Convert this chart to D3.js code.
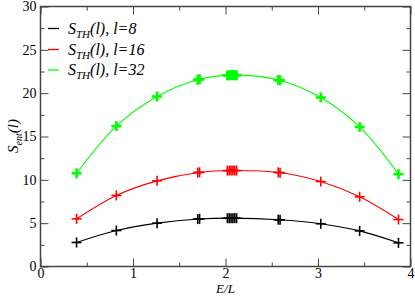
<!DOCTYPE html>
<html><head><meta charset="utf-8">
<script src="https://cdn.jsdelivr.net/npm/d3@7/dist/d3.min.js"></script>
<style>
body{margin:0;background:#fff}svg{display:block}
svg text, svg tspan { font-family: "Liberation Serif", "DejaVu Serif", "Noto Serif", "Times New Roman", Times, serif !important; }
</style>
</head><body><div id="chart"></div>
<script>
// ---- data ----
const xTicks = [0, 1, 2, 3, 4];
const yTicks = [0, 5, 10, 15, 20, 25, 30];
const seriesNames = ["l=8", "l=16", "l=32"];
const seriesColors = ["#000000", "#ff0000", "#00ff00"];
// curve nodes
const curveX = [0.39, 0.82, 1.26, 1.71, 2.07, 2.58, 3.03, 3.45, 3.87];
const curve8  = [2.77, 4.15, 5.00, 5.48, 5.58, 5.40, 4.93, 4.11, 2.73];
const curve16 = [5.50, 8.20, 9.88, 10.85, 11.08, 10.85, 9.80, 8.04, 5.42];
const curve32 = [10.75, 16.20, 19.62, 21.58, 22.08, 21.50, 19.50, 16.10, 10.66];
// data points (markers)
const pointX   = [0.39, 0.82, 1.26, 1.70, 1.72, 2.02, 2.04, 2.06, 2.08, 2.10, 2.12, 2.57, 2.59, 3.03, 3.45, 3.87];
const points8  = [2.77, 4.15, 5.00, 5.47, 5.50, 5.57, 5.58, 5.58, 5.58, 5.58, 5.57, 5.40, 5.38, 4.93, 4.11, 2.73];
const points16 = [5.50, 8.20, 9.88, 10.84, 10.87, 11.06, 11.07, 11.08, 11.08, 11.08, 11.07, 10.86, 10.83, 9.80, 8.04, 5.42];
const points32 = [10.75, 16.20, 19.62, 21.55, 21.60, 22.05, 22.07, 22.08, 22.08, 22.08, 22.07, 21.52, 21.48, 19.50, 16.10, 10.66];

const curves = [curve8, curve16, curve32];
const points = [points8, points16, points32];

// ---- layout ----
const W = 415, H = 296;
const m = {l: 40.5, r: 4.5, t: 6.5, b: 29.5};
const svg = d3.select("#chart").append("svg").attr("width", W).attr("height", H);
const x = d3.scaleLinear().domain([0, 4]).range([m.l, W - m.r]);
const y = d3.scaleLinear().domain([0, 30]).range([H - m.b, m.t]);

const axisColor = "#444";
const xMinor = d3.range(0.5, 4, 1);
const yMinor = d3.range(2.5, 30, 5);

function styleAxis(g){
  g.attr("font-family", null);
  g.select(".domain").remove();
  g.selectAll(".tick line").attr("stroke", axisColor).attr("stroke-width", 1);
}
// bottom
svg.append("g").attr("transform", `translate(0,${y(0)})`)
  .call(d3.axisBottom(x).tickValues(xTicks).tickSize(-8).tickPadding(2).tickFormat(d3.format("d")))
  .call(styleAxis)
  .call(g => g.selectAll("text").attr("font-size", 14).attr("fill", "#000"));
svg.append("g").attr("transform", `translate(0,${y(0)})`)
  .call(d3.axisBottom(x).tickValues(xMinor).tickSize(-4).tickFormat(""))
  .call(styleAxis);
// top
svg.append("g").attr("transform", `translate(0,${y(30)})`)
  .call(d3.axisTop(x).tickValues(xTicks).tickSize(-8).tickFormat(""))
  .call(styleAxis);
svg.append("g").attr("transform", `translate(0,${y(30)})`)
  .call(d3.axisTop(x).tickValues(xMinor).tickSize(-4).tickFormat(""))
  .call(styleAxis);
// left
svg.append("g").attr("transform", `translate(${x(0)},0)`)
  .call(d3.axisLeft(y).tickValues(yTicks).tickSize(-8).tickPadding(4).tickFormat(d3.format("d")))
  .call(styleAxis)
  .call(g => g.selectAll("text").attr("font-size", 14).attr("fill", "#000"));
svg.append("g").attr("transform", `translate(${x(0)},0)`)
  .call(d3.axisLeft(y).tickValues(yMinor).tickSize(-4).tickFormat(""))
  .call(styleAxis);
// right
svg.append("g").attr("transform", `translate(${x(4)},0)`)
  .call(d3.axisRight(y).tickValues(yTicks).tickSize(-8).tickFormat(""))
  .call(styleAxis);
svg.append("g").attr("transform", `translate(${x(4)},0)`)
  .call(d3.axisRight(y).tickValues(yMinor).tickSize(-4).tickFormat(""))
  .call(styleAxis);

// frame
svg.append("rect").attr("x", x(0)).attr("y", y(30)).attr("width", x(4) - x(0)).attr("height", y(0) - y(30))
  .attr("fill", "none").attr("stroke", axisColor).attr("stroke-width", 1.5);

// curves
const line = d3.line().x((d, i) => x(curveX[i])).y(d => y(d)).curve(d3.curveCatmullRom.alpha(0.5));
curves.forEach((c, k) => {
  svg.append("path").datum(c).attr("d", line).attr("fill", "none")
    .attr("stroke", seriesColors[k]).attr("stroke-width", 1.1);
});

// markers (plus)
const pw = [1.6, 1.6, 2.6];
points.forEach((p, k) => {
  const g = svg.append("g").attr("stroke", seriesColors[k]).attr("stroke-width", pw[k]);
  p.forEach((v, i) => {
    const cx = x(pointX[i]), cy = y(v), s = 5;
    g.append("line").attr("x1", cx - s).attr("x2", cx + s).attr("y1", cy).attr("y2", cy);
    g.append("line").attr("x1", cx).attr("x2", cx).attr("y1", cy - s).attr("y2", cy + s);
  });
});

// legend
const lg = svg.append("g");
const legY = [28.5, 49.5, 70];
seriesNames.forEach((n, k) => {
  lg.append("line").attr("x1", 48).attr("x2", 59).attr("y1", legY[k]).attr("y2", legY[k])
    .attr("stroke", seriesColors[k]).attr("stroke-width", 1.3);
  const t = lg.append("text").attr("x", 68).attr("y", legY[k] + 5).attr("font-size", 16).attr("font-style", "italic").attr("fill", "#000");
  t.append("tspan").text("S");
  t.append("tspan").attr("font-size", 11).attr("dy", 4).text("TH");
  t.append("tspan").attr("dy", -4).text("(l), " + n);
});

// axis labels
svg.append("text").attr("x", x(2)).attr("y", 293).attr("text-anchor", "middle")
  .attr("font-size", 13).attr("font-style", "italic").text("E/L");
const yl = svg.append("text").attr("transform", `translate(18,136) rotate(-90)`).attr("text-anchor", "middle")
  .attr("font-size", 15).attr("font-style", "italic");
yl.append("tspan").text("S");
yl.append("tspan").attr("font-size", 10).attr("dy", 4).text("ent");
yl.append("tspan").attr("dy", -4).text("(l)");
</script></body></html>
